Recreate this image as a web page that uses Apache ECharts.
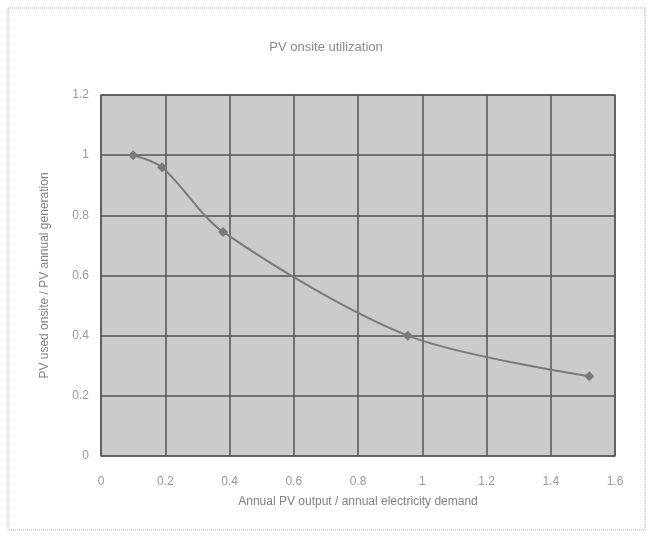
<!DOCTYPE html>
<html>
<head>
<meta charset="utf-8">
<script src="https://cdn.jsdelivr.net/npm/echarts@6/dist/echarts.min.js"></script>
<style>
  html, body { margin: 0; padding: 0; background: #fff; }
  #chart-container { width: 652px; height: 539px; }
</style>
</head>
<body>
<div id="chart-container"></div>
<script>
var dom = document.getElementById('chart-container');
var myChart = echarts.init(dom, null, { renderer: 'canvas' });

// ratio of annual PV output to annual electricity demand
const pvRatio = [0.1, 0.19, 0.38, 0.955, 1.52];
// share of PV generation used onsite
const onsiteShare = [1.0, 0.96, 0.745, 0.40, 0.265];

const points = pvRatio.map(function (x, i) { return [x, onsiteShare[i]]; });

var option = {
  animation: false,
  backgroundColor: '#fff',
  title: {
    text: 'PV onsite utilization',
    left: 'center',
    top: 36,
    textStyle: { fontFamily: 'Liberation Sans', fontSize: 13, fontWeight: 'normal', color: '#8a8a8a' }
  },
  graphic: [{
    type: 'rect',
    shape: { x: 8, y: 8, width: 637, height: 522 },
    style: { fill: null, stroke: '#aaa', lineWidth: 1, lineDash: [1, 1] }
  }],
  grid: { left: 101, top: 95, right: 37, bottom: 83, show: true, backgroundColor: '#cbcbcb', borderColor: '#6a6a6a', borderWidth: 1.5 },
  xAxis: {
    type: 'value',
    min: 0, max: 1.6, interval: 0.2,
    name: 'Annual PV output / annual electricity demand',
    nameLocation: 'middle',
    nameGap: 40,
    nameTextStyle: { fontFamily: 'Liberation Sans', fontSize: 12, color: '#808080' },
    axisLine: { show: false },
    axisTick: { show: false },
    axisLabel: { margin: 20, fontFamily: 'Liberation Sans', fontSize: 12, color: '#999' },
    splitLine: { lineStyle: { color: '#555', width: 1.5 } }
  },
  yAxis: {
    type: 'value',
    min: 0, max: 1.2, interval: 0.2,
    name: 'PV used onsite / PV annual generation',
    nameLocation: 'middle',
    nameGap: 50,
    nameTextStyle: { fontFamily: 'Liberation Sans', fontSize: 12, color: '#808080' },
    axisLine: { show: false },
    axisTick: { show: false },
    axisLabel: { margin: 12, fontFamily: 'Liberation Sans', fontSize: 12, color: '#999' },
    splitLine: { lineStyle: { color: '#555', width: 1.5 } }
  },
  series: [{
    type: 'line',
    data: points,
    smooth: 0.3,
    symbol: 'diamond',
    symbolSize: 10,
    lineStyle: { color: '#7a7a7a', width: 2 },
    itemStyle: { color: '#7a7a7a' }
  }]
};

myChart.setOption(option);
window.addEventListener('resize', myChart.resize);
</script>
</body>
</html>
